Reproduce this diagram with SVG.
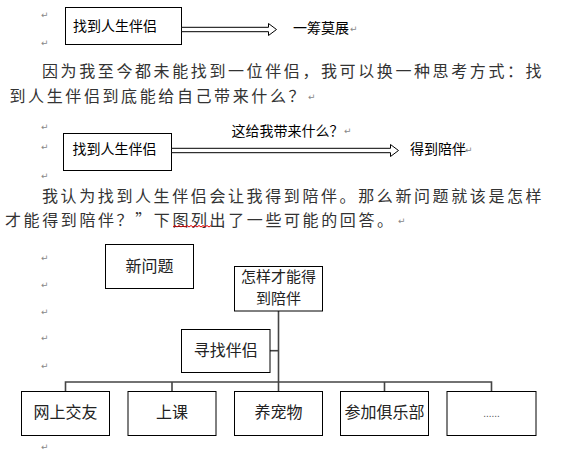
<svg xmlns="http://www.w3.org/2000/svg" width="568" height="462" viewBox="0 0 568 462">
<style>
.bg{fill:#fff}
.box{fill:#fff;stroke:#000;stroke-width:1}
.t14{font-family:"Noto Sans CJK SC","Liberation Sans",sans-serif;font-size:14px;fill:#000}
.t16{font-family:"Noto Sans CJK SC","Liberation Sans",sans-serif;font-size:16px;fill:#222}
.t15{font-family:"Noto Sans CJK SC","Liberation Sans",sans-serif;font-size:15px;fill:#222}
.para{font-family:"Noto Sans CJK SC","Liberation Sans",sans-serif;font-size:16px;fill:#333;letter-spacing:2.6px}
.pm{font-family:"DejaVu Sans",sans-serif;font-size:9px;fill:#888}
.arrow{fill:#fff;stroke:#000;stroke-width:1}
.conn{fill:none;stroke:#444;stroke-width:1.6}
.wave{fill:none;stroke:#e00000;stroke-width:1}
</style>
<rect class="bg" x="0" y="0" width="568" height="462"/>

<!-- paragraph marks -->
<g id="marks">
<text class="pm" x="41" y="18">↵</text>
<text class="pm" x="41" y="46">↵</text>
<text class="pm" x="158" y="30">↵</text>
<text class="pm" x="350" y="32">↵</text>
<text class="pm" x="308" y="100">↵</text>
<text class="pm" x="41" y="130">↵</text>
<text class="pm" x="41" y="150">↵</text>
<text class="pm" x="41" y="179">↵</text>
<text class="pm" x="344" y="134">↵</text>
<text class="pm" x="157" y="152">↵</text>
<text class="pm" x="465" y="153">↵</text>
<text class="pm" x="398" y="224">↵</text>
<text class="pm" x="41" y="261">↵</text>
<text class="pm" x="41" y="288">↵</text>
<text class="pm" x="41" y="315">↵</text>
<text class="pm" x="41" y="341">↵</text>
<text class="pm" x="41" y="369">↵</text>
<text class="pm" x="41" y="450">↵</text>
</g>

<!-- row 1 -->
<g id="box-find1">
<rect class="box" x="65.5" y="7.5" width="116" height="37"/>
<text class="t14" x="73" y="31">找到人生伴侣</text>
</g>
<g id="label-stuck">
<text class="t14" x="293" y="33">一筹莫展</text>
</g>

<!-- paragraph 1 -->
<text class="para" x="42" y="77">因为我至今都未能找到一位伴侣，我可以换一种思考方式：找</text>
<text class="para" x="9.5" y="102">到人生伴侣到底能给自己带来什么？</text>

<!-- row 2 -->
<g id="box-find2">
<rect class="box" x="63.5" y="133.5" width="108" height="37"/>
<text class="t14" x="72.5" y="154">找到人生伴侣</text>
</g>
<g id="label-question">
<text class="t14" x="231.5" y="136">这给我带来什么？</text>
</g>
<g id="label-company">
<text class="t14" x="410" y="154">得到陪伴</text>
</g>

<!-- paragraph 2 -->
<text class="para" x="42" y="202">我认为找到人生伴侣会让我得到陪伴。那么新问题就该是怎样</text>
<text class="para" x="5" y="225.5">才能得到陪伴？”下图列出了一些可能的回答。</text>
<path class="wave" d="M173,227 l2,-1.5 l2,1.5 l2,-1.5 l2,1.5 l2,-1.5 l2,1.5 l2,-1.5 l2,1.5 l2,-1.5 l2,1.5 l2,-1.5 l2,1.5 l2,-1.5 l2,1.5 l2,-1.5 l2,1.5 l2,-1.5 l2,1.5 l2,-1.5"/>

<!-- connectors -->
<g id="connectors">
<polygon class="arrow" points="181.5,27.3 268.5,27.3 268.5,23.5 276.5,29.5 268.5,35.5 268.5,31.7 181.5,31.7"/>
<polygon class="arrow" points="171.5,148.3 390.5,148.3 390.5,144.5 398.5,150.5 390.5,156.5 390.5,152.7 171.5,152.7"/>
<path class="conn" d="M278.5,311 V382"/>
<path class="conn" d="M270,350.7 H278.5"/>
<path class="conn" d="M65.5,392 V382 H491.5 V392"/>
<path class="conn" d="M172,382 V392 M278.5,382 V392 M384.5,382 V392"/>
</g>

<!-- tree nodes -->
<g id="node-newq">
<rect class="box" x="105.5" y="244.5" width="88" height="44"/>
<text class="t16" x="149.5" y="272" text-anchor="middle">新问题</text>
</g>
<g id="node-how">
<rect class="box" x="234.5" y="266.5" width="88" height="44.5"/>
<text class="t15" text-anchor="middle"><tspan x="278.5" y="282">怎样才能得</tspan><tspan x="278.5" y="304">到陪伴</tspan></text>
</g>
<g id="node-seek">
<rect class="box" x="181.5" y="329.5" width="88.5" height="43"/>
<text class="t16" x="225.7" y="355.5" text-anchor="middle">寻找伴侣</text>
</g>
<g id="node-online">
<rect class="box" x="21.5" y="391.5" width="88" height="44"/>
<text class="t16" x="65.5" y="418" text-anchor="middle">网上交友</text>
</g>
<g id="node-class">
<rect class="box" x="128" y="391.5" width="88" height="44"/>
<text class="t16" x="172" y="418" text-anchor="middle">上课</text>
</g>
<g id="node-pet">
<rect class="box" x="234.5" y="391.5" width="88" height="44"/>
<text class="t16" x="278.5" y="418" text-anchor="middle">养宠物</text>
</g>
<g id="node-club">
<rect class="box" x="340.5" y="391.5" width="88" height="44"/>
<text class="t16" x="384.5" y="418" text-anchor="middle">参加俱乐部</text>
</g>
<g id="node-more">
<rect class="box" x="447" y="391.5" width="89" height="44"/>
<text x="491.5" y="417" text-anchor="middle" style="font-family:'Liberation Sans',sans-serif;font-size:10px;fill:#555">......</text>
</g>
</svg>
